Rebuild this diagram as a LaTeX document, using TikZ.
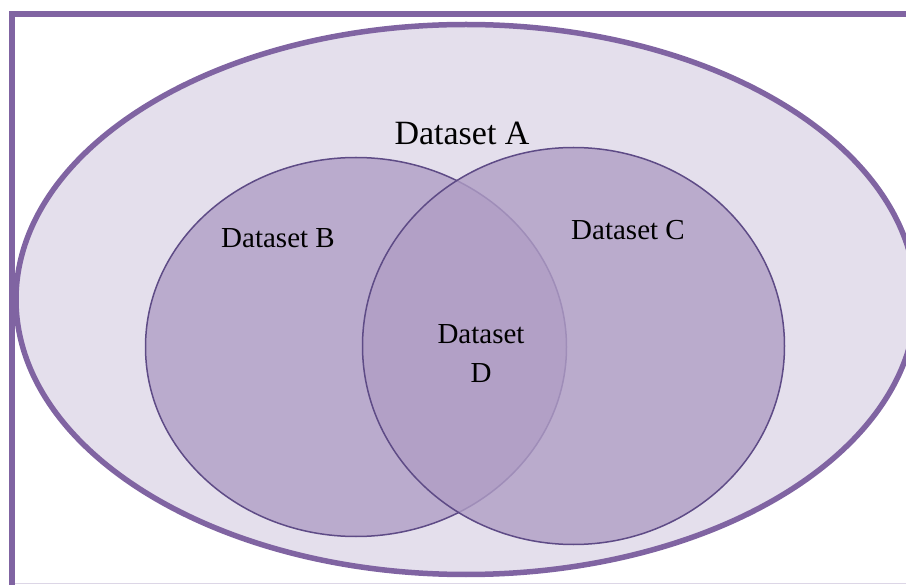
\documentclass[tikz,border=0pt]{standalone}
\usepackage{fontspec}
\setmainfont{Liberation Serif}
\definecolor{frameviolet}{HTML}{8064A2}
\definecolor{outerfill}{HTML}{E4DFEC}
\definecolor{setfill}{HTML}{BAABCD}
\definecolor{setglass}{HTML}{B09EC5}
\definecolor{setedge}{HTML}{5E4B86}
\definecolor{bottomrule}{HTML}{DCD6E6}
\begin{document}
\begin{tikzpicture}[x=1pt,y=-1pt,
  setline/.style={draw=setedge, line width=1.5pt},
  label/.style={anchor=base, inner sep=0pt, font=\fontsize{29}{39}\selectfont, align=center},
  biglabel/.style={anchor=base, inner sep=0pt, font=\fontsize{34}{40}\selectfont}]
  \useasboundingbox (0,0) rectangle (906,585);
  % outer set A (runs past the right edge of the page)
  \draw[draw=frameviolet, fill=outerfill, line width=5.5pt]
    (466,299.5) ellipse [x radius=450pt, y radius=275pt];
  % set B
  \draw[setline, fill=setfill] (356,347) ellipse [x radius=210.5pt, y radius=189.5pt];
  % set C, partly see-through so the overlap reads darker
  \draw[setline, fill=setglass, fill opacity=0.8] (573.5,346) ellipse [x radius=211pt, y radius=198.5pt];
  % frame
  \draw[draw=bottomrule, line width=1.5pt] (15,583.5) -- (906,583.5);
  \draw[frameviolet, line width=6pt] (12,585) -- (12,14) -- (906,14);
  % labels
  \node[biglabel] (la) at (462,145) {Dataset A};
  \node[label] (lb) at (278,248) {Dataset B};
  \node[label] (lc) at (628,240) {Dataset C};
  \node[label, anchor=north] (ld) at (481,324) {Dataset\\D};
\end{tikzpicture}
\end{document}
